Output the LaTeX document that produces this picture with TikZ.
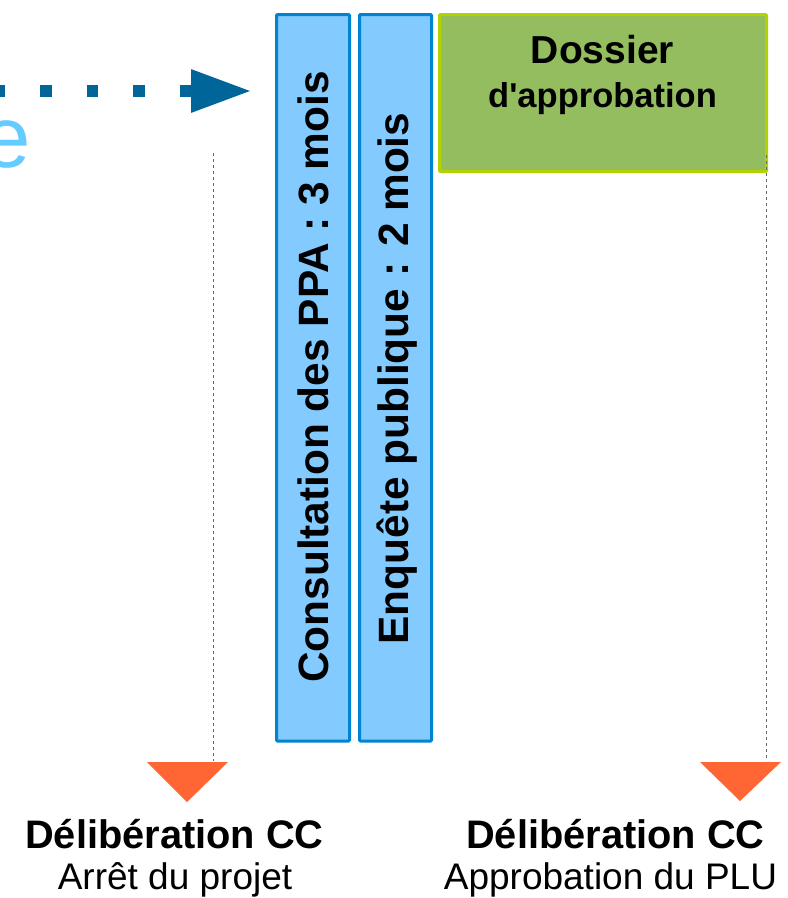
\documentclass[tikz,border=0pt]{standalone}
\usepackage{fontspec}
\setmainfont{Liberation Sans}
\usetikzlibrary{arrows.meta}
\definecolor{boxblue}{RGB}{131,202,255}
\definecolor{edgeblue}{RGB}{0,132,209}
\definecolor{boxgreen}{RGB}{147,189,94}
\definecolor{edgegreen}{RGB}{180,210,0}
\definecolor{arrowblue}{RGB}{0,102,153}
\definecolor{lightblue}{RGB}{102,204,255}
\definecolor{triorange}{RGB}{255,102,51}
\begin{document}
\begin{tikzpicture}[x=1pt,y=-1pt,
  phasebox/.style={draw=edgeblue,fill=boxblue,line width=3pt,rounded corners=1pt},
  dossierbox/.style={draw=edgegreen,fill=boxgreen,line width=3pt,rounded corners=1pt},
  vtext/.style={rotate=90,anchor=base,inner sep=0pt,font=\bfseries\fontsize{42.4}{48}\selectfont},
  guide/.style={draw=black!60,line width=1pt,dash pattern=on 3pt off 3pt},
  marker/.style={fill=triorange},
  boldlabel/.style={anchor=base,inner sep=0pt,font=\bfseries\fontsize{39.8}{44}\selectfont},
  plainlabel/.style={anchor=base,inner sep=0pt,font=\fontsize{37}{42}\selectfont},
  dotarrow/.style={draw=arrowblue,line width=12pt,dash pattern=on 11.5pt off 35pt,
    -{Triangle[length=61pt,width=40pt]}}
]
\useasboundingbox (0,0) rectangle (788,898);

% title letter, cut by the left edge as in the reference
\begin{scope}
\clip (0,0) rectangle (788,898);
\node[anchor=base east,inner sep=0pt,text=lightblue,font=\fontsize{87}{90}\selectfont] (title) at (31,167) {e};
\end{scope}

% dotted arrow
\coordinate (astart) at (-6.5,91);
\coordinate (aend) at (252,91);
\draw[dotarrow] (astart) -- (aend);

% boxes
\draw[phasebox] (276.5,14.5) rectangle (349.5,741);
\node[vtext] (ppa) at (328,377) {Consultation des PPA : 3 mois};
\draw[phasebox] (359.5,14.5) rectangle (431.5,741);
\node[vtext] (enq) at (408,378.5) {Enquête publique : 2 mois};
\draw[dossierbox] (439.5,14.5) rectangle (766.5,171.5);
\node[anchor=base,inner sep=0pt,font=\bfseries\fontsize{39}{44}\selectfont] (dos1) at (602.5,63) {Dossier};
\node[anchor=base,inner sep=0pt,font=\bfseries\fontsize{34.5}{40}\selectfont] (dos2) at (602.5,107) {d\textquotesingle approbation};

% markers
\coordinate (t1a) at (147,762);
\coordinate (t1b) at (228,762);
\coordinate (t1c) at (187,802);
\coordinate (t2a) at (700,762);
\coordinate (t2b) at (781,762);
\coordinate (t2c) at (740,801);
\fill[marker] (t1a) -- (t1b) -- (t1c) -- cycle;
\fill[marker] (t2a) -- (t2b) -- (t2c) -- cycle;

% guide lines
\coordinate (g1top) at (213,153);
\coordinate (g1bot) at (213,761);
\coordinate (g2top) at (766,155);
\coordinate (g2bot) at (766,761);
\draw[guide] (g1top) -- (g1bot);
\draw[guide] (g2top) -- (g2bot);

% labels
\node[boldlabel] (l1) at (174.5,848) {Délibération CC};
\node[plainlabel] (l2) at (175,889) {Arrêt du projet};
\node[boldlabel] (r1) at (615.5,848) {Délibération CC};
\node[plainlabel] (r2) at (610.5,889) {Approbation du PLU};
\end{tikzpicture}
\end{document}
